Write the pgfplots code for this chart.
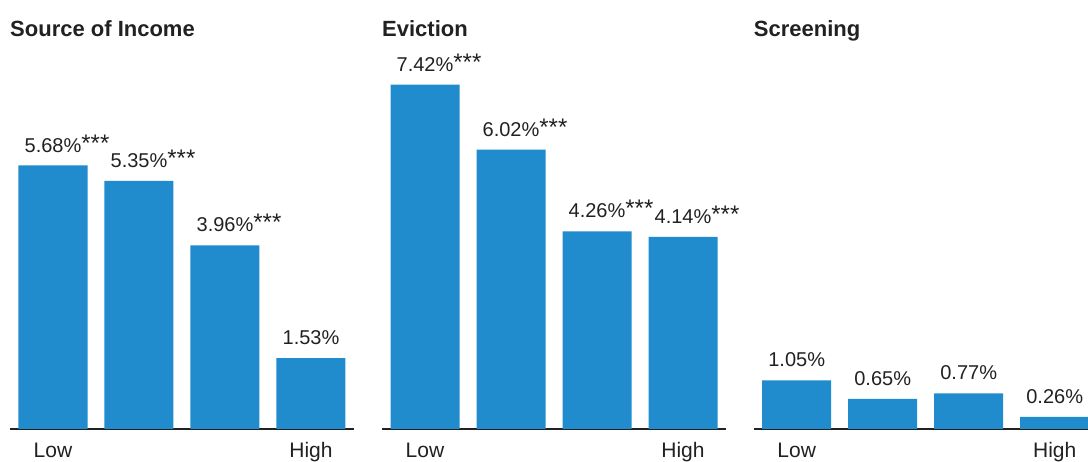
\documentclass[border=0pt]{standalone}
\usepackage{fontspec}
\setmainfont{Liberation Sans}
\usepackage{pgfplots}
\pgfplotsset{compat=1.18}
\definecolor{barblue}{HTML}{208BCD}
\definecolor{txt}{HTML}{212121}
\protected\def\st{\rlap{\raisebox{1pt}{\fontsize{24}{24}\selectfont ***}}}
\pgfplotsset{panel/.style={
  scale only axis, width=344pt, height=394.4pt,
  xmin=-0.5, xmax=3.5, ymin=0, ymax=8.5,
  axis x line*=bottom, axis y line=none,
  x axis line style={draw=txt, line width=1.5pt},
  xtick={0,3}, xticklabels={Low,High}, major tick length=0pt, ytick=\empty,
  xticklabel style={anchor=base, yshift=-29pt, inner sep=0pt, font=\fontsize{21}{24}\selectfont, text=txt},
  ybar, bar width=69pt,
  clip=false,
  point meta=explicit symbolic,
  nodes near coords,
  every node near coord/.append style={inner sep=0pt, yshift=13pt, font=\fontsize{20}{24}\selectfont, text=txt},
}}
\tikzset{ptitle/.style={anchor=base west, inner sep=0pt, font=\bfseries\fontsize{22}{26}\selectfont, text=txt, yshift=-1.4pt}}
\begin{document}
\begin{tikzpicture}
\path[use as bounding box] (0,0) rectangle (1088pt,462pt);
\begin{axis}[panel, at={(10pt,33pt)}, anchor=south west]
\addplot[fill=barblue, draw=none] coordinates {(0,5.68) [5.68\%\st] (1,5.35) [5.35\%\st] (2,3.96) [3.96\%\st] (3,1.53) [1.53\%]};
\node[ptitle] at (rel axis cs:0,1) {Source of Income};
\end{axis}
\begin{axis}[panel, at={(382pt,33pt)}, anchor=south west]
\addplot[fill=barblue, draw=none] coordinates {(0,7.42) [7.42\%\st] (1,6.02) [6.02\%\st] (2,4.26) [4.26\%\st] (3,4.14) [4.14\%\st]};
\node[ptitle] at (rel axis cs:0,1) {Eviction};
\end{axis}
\begin{axis}[panel, at={(753.7pt,33pt)}, anchor=south west]
\addplot[fill=barblue, draw=none] coordinates {(0,1.05) [1.05\%] (1,0.65) [0.65\%] (2,0.77) [0.77\%] (3,0.26) [0.26\%]};
\node[ptitle] at (rel axis cs:0,1) {Screening};
\end{axis}
\end{tikzpicture}
\end{document}
